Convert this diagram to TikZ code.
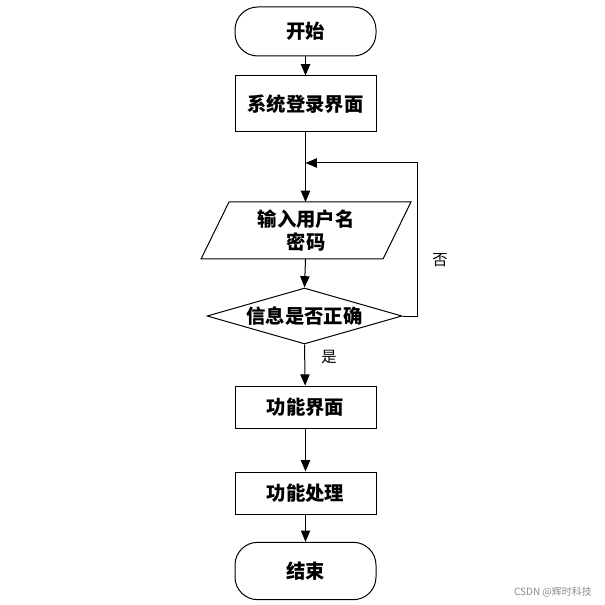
\documentclass[tikz,border=0pt]{standalone}
\usepackage{fontspec}
\newfontfamily\cjk{Noto Sans CJK SC}
\usetikzlibrary{arrows.meta,shapes.geometric,calc}
\begin{document}
\begin{tikzpicture}[x=0.75pt,y=-0.75pt,
  every node/.style={font=\cjk\bfseries\fontsize{14.5pt}{18pt}\selectfont},
  base/.style={draw, line width=0.75pt, align=center, inner sep=0pt},
  term/.style={base, rounded corners=17pt, minimum width=105.75pt, minimum height=36.75pt},
  proc/.style={base, minimum width=105.75pt, minimum height=42pt},
  dec/.style={base, diamond, aspect=3.5, minimum width=146.25pt, minimum height=42pt},
  lbl/.style={font=\cjk\fontsize{11.5pt}{14pt}\selectfont},
  arr/.style={line width=0.75pt, -{Triangle[length=8.5pt,width=7pt]}}
]
\useasboundingbox[fill=white] (0,0) rectangle (605,605);
\node[term] (start) at (305.5,31.5) {开始};
\node[proc] (login) at (305.5,104) {系统登录界面};
\node[align=center, inner sep=0pt] (inp) at (306,230.5) {输入用户名\\[-1pt]密码};
\draw[line width=0.75pt] (229,202) -- (411,202) -- (383,259) -- (201,259) -- cycle;
\coordinate (inpT) at (305.5,202);
\coordinate (inpB) at (305.5,259);
\node[dec] (chk) at (304.5,316) {信息是否正确};
\node[proc, minimum height=32pt] (func) at (305.5,407.5) {功能界面};
\node[proc, minimum height=31.5pt] (proc) at (305.5,493) {功能处理};
\node[term, minimum height=43pt] (end) at (305.5,571) {结束};
\coordinate (loopR) at (417,316);
\coordinate (loopT) at (417,163);
\coordinate (join) at (305.5,163);
\draw[arr] (start) -- (login);
\draw[arr] (login) -- (inpT);
\draw[arr] (inpB) -- (chk.north);
\draw[arr] (chk.south) -- (func);
\draw[arr] (func) -- (proc);
\draw[arr] (proc) -- (end);
\draw[arr] (chk.east) -- (loopR) -- (loopT) -- (join);
\node[lbl] (no) at (440,260) {否};
\node[lbl] (yes) at (329,357) {是};
\node[font=\cjk\fontsize{7.5pt}{8pt}\selectfont, text=black!45] (wm) at (553,592) {CSDN @辉时科技};
\end{tikzpicture}
\end{document}
